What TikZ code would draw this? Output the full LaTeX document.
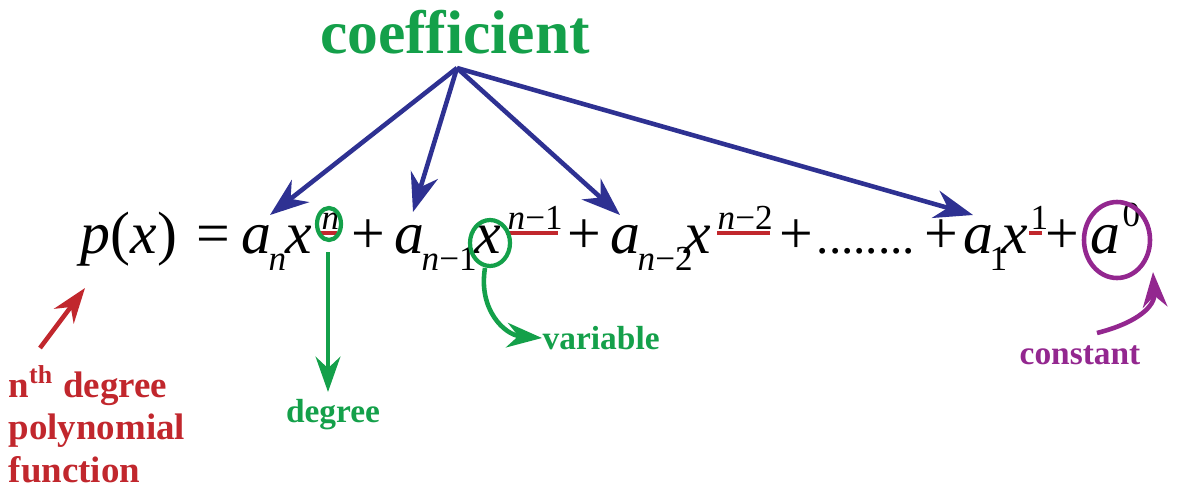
\documentclass[tikz,border=0pt]{standalone}
\usepackage{fontspec}
\setmainfont{Liberation Serif}
\usetikzlibrary{arrows.meta}
\definecolor{cblue}{HTML}{2E3192}
\definecolor{cgreen}{HTML}{14A04A}
\definecolor{cred}{HTML}{C1272D}
\definecolor{cpurple}{HTML}{93278F}
\begin{document}
\begin{tikzpicture}[x=0.01cm,y=-0.01cm,
  eq/.style={anchor=base west,inner sep=0pt,font=\fontsize{17}{20}\selectfont\itshape},
  eqr/.style={anchor=base west,inner sep=0pt,font=\fontsize{17}{20}\selectfont},
  sb/.style={anchor=base west,inner sep=0pt,font=\fontsize{10}{12}\selectfont\itshape},
  lab/.style={inner sep=0pt,font=\fontsize{9.5}{11}\selectfont\bfseries},
  barrow/.style={cblue,line width=1.3pt,-{Stealth[length=11pt,width=8pt]}},
  garrow/.style={cgreen,line width=1.3pt,-{Stealth[length=10pt,width=7pt]}},
  ul/.style={cred,line width=1.2pt}]
\useasboundingbox (0,0) rectangle (1200,491);
\node[inner sep=0pt,text=cgreen,font=\fontsize{17.5}{20}\selectfont\bfseries] (coef) at (455,32) {coefficient};
\coordinate (hub) at (457,68);
% equation
\node[eq] (p) at (80,254) {p\textup{(}x\textup{)}};
\node[eqr] (eq1) at (196,254) {=};
\node[eq] (a1) at (241,254) {a};
\node[sb] (s1) at (268,270) {n};
\node[eq] (x1) at (285,254) {x};
\node[sb] (e1) at (321,229) {n};
\node[eqr] (pl1) at (351,254) {+};
\node[eq] (a2) at (394,254) {a};
\node[sb] (s2) at (421,270) {n\textup{−1}};
\node[eq] (x2) at (474,254) {x};
\node[sb] (e2) at (507,229) {n\textup{−1}};
\node[eqr] (pl2) at (567,254) {+};
\node[eq] (a3) at (610,254) {a};
\node[sb] (s3) at (637,270) {n\textup{−2}};
\node[eq] (x3) at (684,254) {x};
\node[sb] (e3) at (717,229) {n\textup{−2}};
\node[eqr] (pl3) at (779,254) {+};
\node[eqr,font=\fontsize{14}{16}\selectfont] (dots) at (816,254) {........};
\node[eqr] (pl4) at (924,254) {+};
\node[eq] (a4) at (963,254) {a};
\node[sb] (s4) at (989,270) {\textup{1}};
\node[eq] (x4) at (1001,254) {x};
\node[sb] (e4) at (1030,229) {\textup{1}};
\node[eqr] (pl5) at (1045,254) {+};
\node[eq] (a5) at (1090,254) {a};
\node[sb] (e5) at (1122,226) {\textup{0}};
% underlines and circles
\draw[ul] (320,233) -- (337,233);
\draw[ul] (506,233) -- (558,233);
\draw[ul] (717,233) -- (770,233);
\draw[ul] (1029,233) -- (1042,233);
\draw[cgreen,line width=1.2pt] (329,224) ellipse (12 and 16);
\draw[cgreen,line width=1.2pt] (490,243) ellipse (20 and 23);
\draw[cpurple,line width=1.3pt] (1117,240) ellipse (33 and 38);
% coefficient arrows
\coordinate (t1) at (270,215);
\coordinate (t2) at (413,212);
\coordinate (t3) at (620,215);
\coordinate (t4) at (973,215);
\draw[barrow] (hub) -- (t1);
\draw[barrow] (hub) -- (t2);
\draw[barrow] (hub) -- (t3);
\draw[barrow] (hub) -- (t4);
% degree
\coordinate (dg0) at (328,252);
\node[lab,text=cgreen] (deg) at (333,415) {degree};
\draw[garrow] (dg0) -- (328,392);
% variable
\coordinate (v0) at (485,268);
\node[lab,text=cgreen,anchor=west] (var) at (542,338) {variable};
\draw[garrow] (v0) .. controls (478,310) and (505,335) .. (var.west);
% constant
\node[lab,text=cpurple] (con) at (1080,355) {constant};
\coordinate (c1) at (1153,272);
\draw[cpurple,line width=1.3pt,-{Stealth[length=10pt,width=7pt]}] (1097,333) .. controls (1140,322) and (1155,305) .. (c1);
% nth degree
\node[lab,text=cred,anchor=north west,align=left,font=\fontsize{10.5}{12}\selectfont\bfseries] (nth) at (8,365) {n\textsuperscript{th} degree\\polynomial\\function};
\coordinate (r1) at (85,288);
\draw[cred,line width=1.3pt,-{Stealth[length=10pt,width=7pt]}] (40,348) -- (r1);
\end{tikzpicture}
\end{document}
